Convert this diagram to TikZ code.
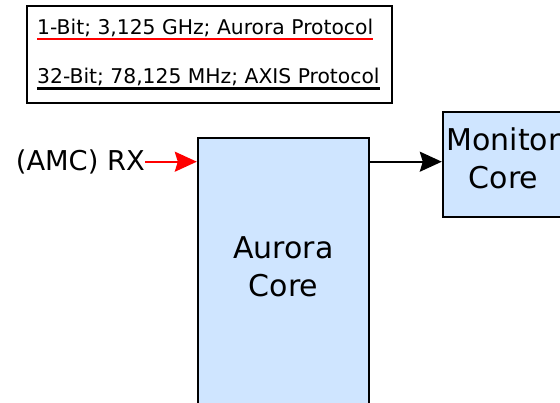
\documentclass[tikz,border=0pt]{standalone}
\usepackage{fontspec}
\setmainfont{DejaVu Sans}
\usetikzlibrary{arrows.meta,fit}
\definecolor{coreblue}{RGB}{207,229,255}
\tikzset{
  corebox/.style={draw=black, line width=2.4pt, fill=coreblue, inner sep=0pt},
  legline/.style={inner sep=0pt, font=\fontsize{20.3}{22}\selectfont},
  bigtext/.style={inner sep=0pt, align=center, font=\fontsize{30}{38}\selectfont},
  flow/.style={line width=2pt, -{Stealth[length=22pt, width=20pt, inset=3pt]}},
}
\begin{document}
\begin{tikzpicture}[x=1pt, y=-1pt]
  \useasboundingbox (0,0) rectangle (560,403);
  \clip (0,0) rectangle (560,403);

  \coordinate (LTL) at (27,6);
  \coordinate (LBR) at (392,103);
  \coordinate (ATL) at (198,138);
  \coordinate (ABR) at (369,420);
  \coordinate (MTL) at (443,112);
  \coordinate (MBR) at (566,217);

  % legend
  \draw[line width=2.4pt] (LTL) rectangle (LBR);
  \node[legline, anchor=base west] (aurorabus) at (37,35) {1-Bit; 3,125 GHz; Aurora Protocol};
  \node[legline, anchor=base west] (axisbus)   at (37,84) {32-Bit; 78,125 MHz; AXIS Protocol};
  \draw[red, line width=2pt] ([yshift=-4.5pt]aurorabus.base west) -- ([yshift=-4.5pt]aurorabus.base east);
  \draw[black, line width=2.4pt] ([yshift=-4.5pt]axisbus.base west) -- ([yshift=-4.5pt]axisbus.base east);

  % cores
  \node[corebox, fit=(ATL)(ABR)] (aurora) {};
  \node[corebox, fit=(MTL)(MBR)] (monitor) {};
  \node[bigtext] (auroralabel) at (283.5,267) {Aurora\\Core};
  \node[bigtext] (monitorlabel) at (503.5,158) {Monitor\\Core};

  \node[inner sep=0pt, anchor=east, font=\fontsize{27.3}{30}\selectfont] (rx) at (145,161.7) {(AMC) RX};

  \draw[flow, red] (rx.east) -- (rx -| aurora.west);
  \draw[flow, black] (rx -| aurora.east) -- (rx -| monitor.west);
\end{tikzpicture}
\end{document}
